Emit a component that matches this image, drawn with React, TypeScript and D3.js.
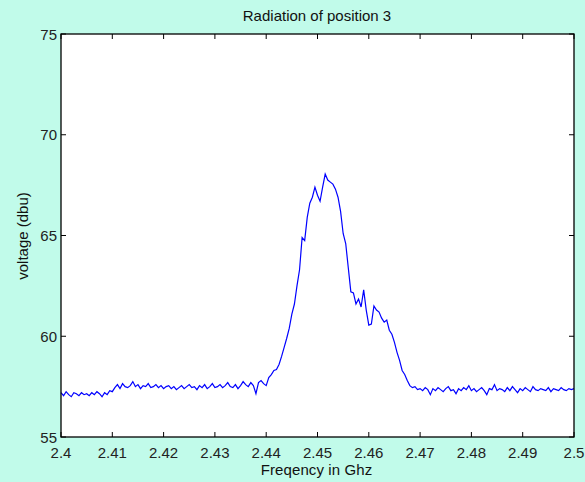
import React from "react";
import * as d3 from "d3";

// frequency grid (GHz)
const freqStart = 2.4;
const freqStep = 0.0005;

// 2.4000 – 2.4395
const baselineLeft = [
  57.2, 57.05, 57.25, 57.1, 57.0, 57.2, 57.15, 57.05, 57.2, 57.1, 57.15, 57.05, 57.2, 57.1, 57.25, 57.15, 57.0, 57.2, 57.1, 57.3,
  57.25, 57.45, 57.6, 57.4, 57.65, 57.5, 57.45, 57.55, 57.75, 57.5, 57.6, 57.4, 57.55, 57.5, 57.65, 57.45, 57.5, 57.6, 57.45, 57.55,
  57.4, 57.5, 57.55, 57.4, 57.5, 57.35, 57.45, 57.55, 57.4, 57.5, 57.6, 57.45, 57.5, 57.35, 57.55, 57.45, 57.6, 57.4, 57.5, 57.65,
  57.45, 57.5, 57.6, 57.45, 57.55, 57.7, 57.5, 57.45, 57.6, 57.4, 57.55, 57.75, 57.6, 57.5, 57.7, 57.55, 57.15, 57.7, 57.8, 57.65,
];

// 2.4400 – 2.4685
const peak = [
  57.55, 57.95, 58.1, 58.3, 58.35, 58.6, 59.0, 59.45, 59.9, 60.4,
  61.1, 61.6, 62.5, 63.3, 64.9, 64.75, 65.9, 66.6, 66.9, 67.4,
  67.0, 66.7, 67.4, 68.05, 67.75, 67.65, 67.55, 67.3, 66.9, 66.2,
  65.1, 64.6, 63.4, 62.2, 62.15, 61.6, 61.85, 61.45, 62.3, 61.3,
  60.55, 60.6, 61.5, 61.3, 61.2, 60.9, 60.7, 60.8, 60.3, 60.1,
  59.7, 59.2, 58.8, 58.3, 58.1, 57.8, 57.55, 57.45,
];

// 2.4690 – 2.5000
const baselineRight = [
  57.5, 57.35, 57.4, 57.3, 57.45, 57.35, 57.1, 57.4, 57.3, 57.45,
  57.35, 57.25, 57.4, 57.5, 57.3, 57.35, 57.15, 57.4, 57.3, 57.45,
  57.35, 57.55, 57.3, 57.4, 57.25, 57.35, 57.45, 57.3, 57.1, 57.4,
  57.35, 57.6, 57.3, 57.4, 57.35, 57.25, 57.45, 57.3, 57.5, 57.35,
  57.2, 57.4, 57.3, 57.45, 57.35, 57.25, 57.5, 57.35, 57.3, 57.4,
  57.35, 57.3, 57.45, 57.25, 57.4, 57.35, 57.3, 57.45, 57.35, 57.3,
  57.4, 57.35, 57.4,
];

const xTicks = [2.4, 2.41, 2.42, 2.43, 2.44, 2.45, 2.46, 2.47, 2.48, 2.49, 2.5];
const yTicks = [55, 60, 65, 70, 75];

const W = 585;
const H = 482;
const margin = { top: 34, right: 11, bottom: 45, left: 61 };
const font = "'Liberation Sans', Arial, Helvetica, sans-serif";

export default function App() {
  const levels = [...baselineLeft, ...peak, ...baselineRight];
  const data = levels.map((v, i) => ({ f: freqStart + i * freqStep, v }));

  const x = d3.scaleLinear().domain([2.4, 2.5]).range([margin.left, W - margin.right]);
  const y = d3.scaleLinear().domain([55, 75]).range([H - margin.bottom, margin.top]);

  const line = d3
    .line<{ f: number; v: number }>()
    .x((d) => x(d.f))
    .y((d) => y(d.v));

  const x0 = x(2.4), x1 = x(2.5), y0 = y(55), y1 = y(75);
  const tick = 5;

  return (
    <svg
      width={W}
      height={H}
      style={{ position: "absolute", left: 0, top: 0, display: "block" }}
      fontFamily={font}
    >
      <rect width={W} height={H} fill="#c1fbea" />
      <rect x={x0} y={y1} width={x1 - x0} height={y0 - y1} fill="#ffffff" />

      <path d={line(data) || ""} fill="none" stroke="#0000ff" strokeWidth={1.2} />

      {/* ticks, pointing inwards on all four sides */}
      {xTicks.map((t) => (
        <g key={"x" + t}>
          <line x1={x(t)} x2={x(t)} y1={y0} y2={y0 - tick} stroke="#000" />
          <line x1={x(t)} x2={x(t)} y1={y1} y2={y1 + tick} stroke="#000" />
          <text x={x(t)} y={y0 + 20.5} fontSize={15} textAnchor="middle" fill="#222">
            {t}
          </text>
        </g>
      ))}
      {yTicks.map((t) => (
        <g key={"y" + t}>
          <line x1={x0} x2={x0 + tick} y1={y(t)} y2={y(t)} stroke="#000" />
          <line x1={x1} x2={x1 - tick} y1={y(t)} y2={y(t)} stroke="#000" />
          <text x={x0 - 4} y={y(t) + 5.5} fontSize={15} textAnchor="end" fill="#222">
            {t}
          </text>
        </g>
      ))}

      <rect
        x={x0}
        y={y1}
        width={x1 - x0}
        height={y0 - y1}
        fill="none"
        stroke="#000"
        strokeWidth={1.3}
      />

      <text x={317} y={21} fontSize={15} textAnchor="middle" fill="#111">
        Radiation of position 3
      </text>
      <text x={316.5} y={475} fontSize={15} textAnchor="middle" fill="#111" letterSpacing={0.1}>
        Freqency in Ghz
      </text>
      <text
        transform={`translate(28,236) rotate(-90)`}
        fontSize={15}
        textAnchor="middle"
        fill="#111"
      >
        voltage (dbu)
      </text>
    </svg>
  );
}
